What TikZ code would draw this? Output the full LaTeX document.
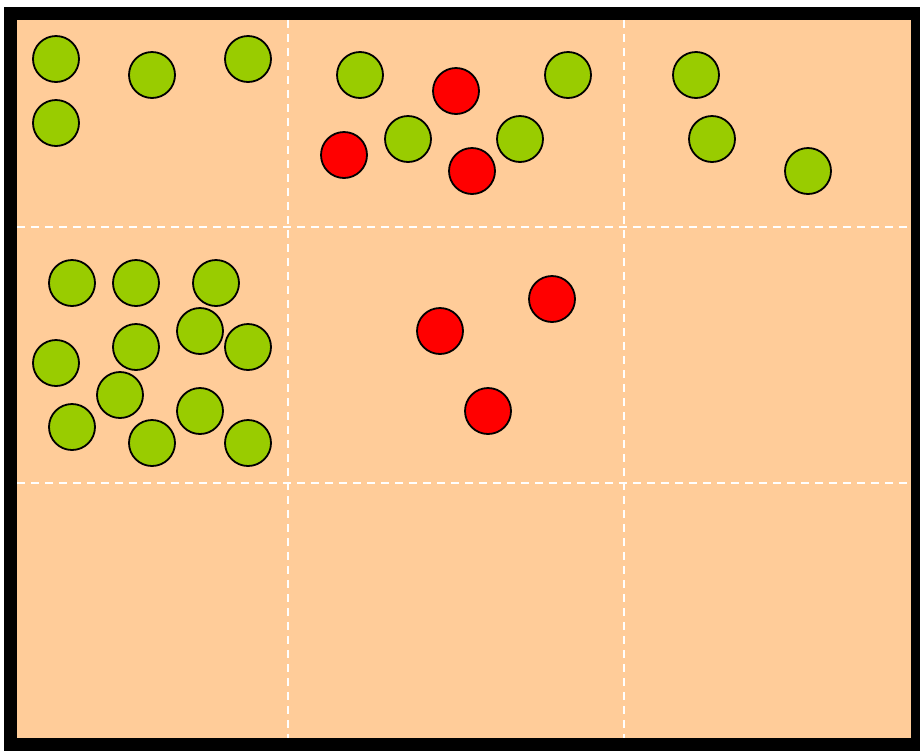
\documentclass[tikz,border=0pt]{standalone}
\definecolor{peach}{HTML}{FFCC99}
\definecolor{ballgreen}{HTML}{99CC00}
\definecolor{ballred}{HTML}{FF0000}
\tikzset{
  ball/.style={circle,draw=black,line width=1.8pt,inner sep=0pt,minimum size=46pt},
  gball/.style={ball,fill=ballgreen},
  rball/.style={ball,fill=ballred},
  gridline/.style={white,line width=1.4pt,dash pattern=on 8pt off 6pt}
}
\begin{document}
\begin{tikzpicture}[x=1pt,y=-1pt]
\useasboundingbox (0,0) rectangle (920,753);
\fill[white] (0,0) rectangle (920,753);
\fill[black] (4,7) rectangle (920,751);
\fill[peach] (17,20) rectangle (911,738);
% grid
\draw[gridline] (288,20) -- (288,738);
\draw[gridline] (624,20) -- (624,738);
\draw[gridline] (17,227) -- (911,227);
\draw[gridline] (17,483) -- (911,483);
% green balls
\node[gball] (g1) at (56,59) {};
\node[gball] (g2) at (152,75) {};
\node[gball] (g3) at (248,59) {};
\node[gball] (g4) at (56,123) {};
\node[gball] (g5) at (360,75) {};
\node[gball] (g6) at (408,139) {};
\node[gball] (g7) at (520,139) {};
\node[gball] (g8) at (568,75) {};
\node[gball] (g9) at (696,75) {};
\node[gball] (g10) at (712,139) {};
\node[gball] (g11) at (808,171) {};
\node[gball] (g12) at (72,283) {};
\node[gball] (g13) at (136,283) {};
\node[gball] (g14) at (216,283) {};
\node[gball] (g15) at (200,331) {};
\node[gball] (g16) at (136,347) {};
\node[gball] (g17) at (248,347) {};
\node[gball] (g18) at (56,363) {};
\node[gball] (g19) at (120,395) {};
\node[gball] (g20) at (72,427) {};
\node[gball] (g21) at (200,411) {};
\node[gball] (g22) at (152,443) {};
\node[gball] (g23) at (248,443) {};
% red balls
\node[rball] (r1) at (456,91) {};
\node[rball] (r2) at (344,155) {};
\node[rball] (r3) at (472,171) {};
\node[rball] (r4) at (552,299) {};
\node[rball] (r5) at (440,331) {};
\node[rball] (r6) at (488,411) {};
\end{tikzpicture}
\end{document}
